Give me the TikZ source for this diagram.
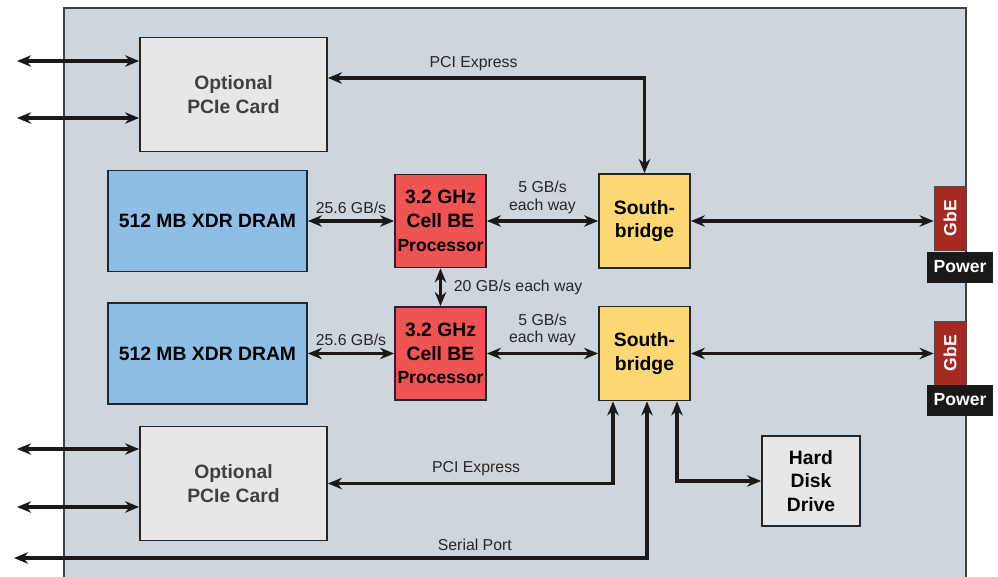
\documentclass[tikz,border=0pt]{standalone}
\usepackage{fontspec}
\setmainfont{Liberation Sans}
\usepackage{tikz}
\usetikzlibrary{shapes.geometric, arrows.meta, positioning}
\definecolor{boardgray}{RGB}{205,213,221}
\definecolor{cardgray}{RGB}{230,231,233}
\definecolor{dramblue}{RGB}{142,189,230}
\definecolor{cellred}{RGB}{238,84,84}
\definecolor{sbyellow}{RGB}{255,216,115}
\definecolor{gbered}{RGB}{165,40,35}
\tikzstyle{box} = [draw = black!85, line width = 1pt, inner sep = 0pt, align = center,
font = \fontsize{11}{13.5}\selectfont\bfseries]
\tikzstyle{card} = [box, fill = cardgray, text = black!75, minimum width = 3.74cm, minimum height = 2.28cm]
\tikzstyle{dram} = [box, fill = dramblue, minimum width = 3.98cm, minimum height = 2.02cm]
\tikzstyle{cell} = [box, fill = cellred, minimum width = 1.82cm, minimum height = 1.86cm]
\tikzstyle{bridge} = [box, fill = sbyellow, minimum width = 1.82cm, minimum height = 1.88cm]
\tikzstyle{disk} = [box, fill = cardgray, minimum width = 1.96cm, minimum height = 1.8cm]
\tikzstyle{gbe} = [draw = black!70, fill = gbered, text = white, rotate = 90, inner sep = 0pt,
minimum width = 1.28cm, minimum height = 0.64cm, font = \fontsize{10}{12}\selectfont\bfseries]
\tikzstyle{power} = [fill = black!90, text = white, inner sep = 0pt, minimum width = 1.32cm,
minimum height = 0.62cm, font = \fontsize{10}{12}\selectfont\bfseries]
\tikzstyle{rate} = [font = \fontsize{9}{10}\selectfont, text = black!85, align = center]
\tikzstyle{arrow} = [line width = 1.8pt, draw = black!90,
{Stealth[length = 8pt, width = 6.5pt]}-{Stealth[length = 8pt, width = 6.5pt]}]
\newcommand{\cellbe}{3.2 GHz\\Cell BE\\{\fontsize{10}{13.5}\selectfont Processor}}

\begin{document}
\begin{tikzpicture} [node distance = 2.65cm]
\useasboundingbox (0,0) rectangle (19.96,-11.54);
\draw [fill = boardgray, draw = black!75, line width = 1pt] (1.28,-0.16) rectangle (19.32,-11.8);

\node (card1) [card] at (4.67,-1.89) {Optional\\PCIe Card};
\node (card2) [card] at (4.67,-9.67) {Optional\\PCIe Card};

\node (dram1) [dram] at (4.15,-4.42) {512 MB XDR DRAM};
\node (dram2) [dram, below of = dram1] {512 MB XDR DRAM};
\node (cell1) [cell, right of = dram1, xshift = 2.01cm] {\cellbe};
\node (cell2) [cell, below of = cell1] {\cellbe};
\node (sb1) [bridge, right of = cell1, xshift = 1.43cm] {South-\\bridge};
\node (sb2) [bridge, below of = sb1] {South-\\bridge};

\node (hdd) [disk] at (16.22,-9.62) {Hard\\Disk\\Drive};

\node (gbe1) [gbe] at (19.0,-4.36) {GbE};
\node (pow1) [power] at (19.2,-5.34) {Power};
\node (gbe2) [gbe] at (19.0,-7.06) {GbE};
\node (pow2) [power] at (19.2,-8.0) {Power};

\coordinate (ext1) at (0.34,-1.22);
\coordinate (ext2) at (0.34,-2.36);
\coordinate (ext3) at (0.34,-8.98);
\coordinate (ext4) at (0.34,-10.14);
\coordinate (serial) at (0.28,-11.16);

\draw[arrow] (ext1) -- (ext1 -| card1.west);
\draw[arrow] (ext2) -- (ext2 -| card1.west);
\draw[arrow] (ext3) -- (ext3 -| card2.west);
\draw[arrow] (ext4) -- (ext4 -| card2.west);

\draw[arrow] ([yshift = 0.33cm]card1.east) -| node[rate, pos = 0.23, above]{PCI Express} (sb1.north);
\draw[arrow] (dram1) -- node[rate, above]{25.6 GB/s} (cell1);
\draw[arrow] (dram2) -- node[rate, above]{25.6 GB/s} (cell2);
\draw[arrow] (cell1) -- node[rate, above]{5 GB/s\\each way} (sb1);
\draw[arrow] (cell2) -- node[rate, above]{5 GB/s\\each way} (sb2);
\draw[arrow] (cell1) -- node[rate, right, xshift = 0.12cm]{20 GB/s each way} (cell2);
% rotated nodes: north is the left side
\draw[arrow] (sb1) -- (sb1 -| gbe1.north);
\draw[arrow] (sb2) -- (sb2 -| gbe2.north);

\draw[arrow] ([xshift = -0.63cm]sb2.south) |- node[rate, pos = 0.74, above]{PCI Express} (card2.east);
\draw[arrow] ([xshift = 0.05cm]sb2.south) |- node[rate, pos = 0.636, above]{Serial Port} (serial);
\draw[arrow] ([xshift = 0.65cm]sb2.south) |- (hdd.west);
\end{tikzpicture}
\end{document}
